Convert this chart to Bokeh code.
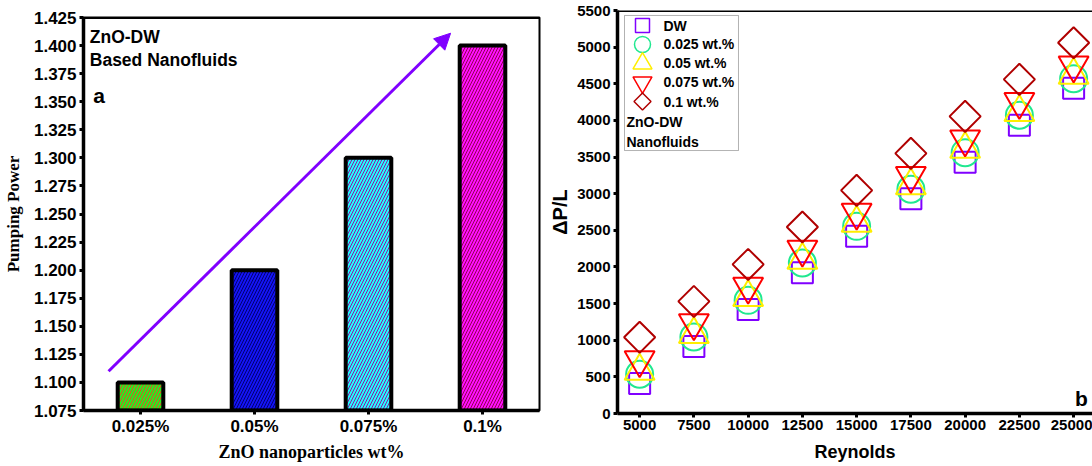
from bokeh.plotting import figure
from bokeh.models import (Range1d, FixedTicker, NumeralTickFormatter, Arrow, NormalHead,
                          Label, Span, BoxAnnotation, ColumnDataSource)
from bokeh.layouts import row, column
from bokeh.embed import file_html
from bokeh.resources import INLINE
import numpy as np

# ---------------- data ----------------
bar_labels = ["0.025%", "0.05%", "0.075%", "0.1%"]
pumping_power = [1.100, 1.200, 1.300, 1.400]
bar_colors = ["#22F022", "#1414F5", "#22FFFF", "#FF10FF"]
hatch_colors = ["#E05020", "#000070", "#9010A0", "#900050"]
left_yticks = [1.075, 1.100, 1.125, 1.150, 1.175, 1.200, 1.225, 1.250, 1.275,
               1.300, 1.325, 1.350, 1.375, 1.400, 1.425]

reynolds = [5000, 7500, 10000, 12500, 15000, 17500, 20000, 22500, 25000]
dp_dw = [410, 915, 1420, 1920, 2420, 2930, 3430, 3935, 4440]
dp_025 = [536, 1044, 1545, 2054, 2555, 3060, 3560, 4070, 4570]
dp_05 = [580, 1080, 1585, 2095, 2600, 3110, 3610, 4110, 4620]
dp_075 = [730, 1235, 1735, 2240, 2745, 3245, 3745, 4255, 4755]
dp_1 = [1040, 1530, 2035, 2545, 3045, 3550, 4055, 4560, 5060]
right_yticks = [0, 500, 1000, 1500, 2000, 2500, 3000, 3500, 4000, 4500, 5000, 5500]

series_labels = ["DW", "0.025 wt.%", "0.05 wt.%", "0.075 wt.%", "0.1 wt.%"]
series_data = [dp_dw, dp_025, dp_05, dp_075, dp_1]
series_colors = ["#8000FF", "#20E890", "#FFEE00", "#FF0000", "#B00000"]
series_markers = ["square", "circle", "triangle", "inverted_triangle", "square"]
series_angles = [0, 0, 0, 0, np.pi / 4]
series_sizes = [21, 27, 30, 30, 22]
legend_sizes = [14, 16, 19, 19, 12]

SANS = "Liberation Sans"
SERIF = "Liberation Serif"

# ---------------- left panel ----------------
p1 = figure(width=545, height=464, output_backend="svg", toolbar_location=None,
            x_range=Range1d(0, 4), y_range=Range1d(1.075, 1.425),
            min_border_left=82, min_border_right=6, min_border_top=17, min_border_bottom=53)
p1.grid.visible = False
p1.outline_line_color = "black"
p1.outline_line_width = 2

xs = [i + 0.5 for i in range(len(bar_labels))]
src = ColumnDataSource(dict(x=xs, top=pumping_power, fill=bar_colors, hatch=hatch_colors))
p1.vbar(x="x", top="top", bottom=1.075, width=0.4, source=src,
        fill_color="fill", line_color="black", line_width=4,
        hatch_pattern="/", hatch_color="hatch", hatch_scale=6, hatch_weight=1)

p1.add_layout(Arrow(end=NormalHead(size=16, fill_color="#8000FF", line_color="#8000FF"),
                    x_start=0.22, y_start=1.11, x_end=3.22, y_end=1.411,
                    line_color="#8000FF", line_width=3))

p1.add_layout(Span(location=1.425, dimension="width", line_color="black", line_width=3))

p1.add_layout(Label(x=0.055, y=1.4165, text="ZnO-DW", text_font=SANS, text_font_style="bold",
                    text_font_size="17.5px", text_baseline="top", text_color="black"))
p1.add_layout(Label(x=0.055, y=1.396, text="Based Nanofluids", text_font=SANS,
                    text_font_style="bold", text_font_size="17.5px", text_baseline="top",
                    text_color="black"))
p1.add_layout(Label(x=0.085, y=1.3553, text="a", text_font=SANS, text_font_style="bold",
                    text_font_size="21px", text_baseline="middle", text_color="black"))

p1.xaxis.ticker = FixedTicker(ticks=xs)
p1.xaxis.major_label_overrides = {x: l for x, l in zip(xs, bar_labels)}
p1.yaxis.ticker = FixedTicker(ticks=left_yticks)
p1.yaxis.formatter = NumeralTickFormatter(format="0.000")
for ax in (p1.xaxis, p1.yaxis):
    ax.axis_line_width = 3.5
    ax.major_tick_line_width = 3
    ax.major_tick_out = 4
    ax.major_tick_in = 0
    ax.minor_tick_line_color = None
    ax.major_label_text_font = SANS
    ax.major_label_text_font_style = "bold"
    ax.major_label_text_font_size = "17px"
    ax.major_label_text_color = "black"
    ax.axis_label_text_font = SERIF
    ax.axis_label_text_font_style = "bold"
    ax.axis_label_text_color = "black"
p1.xaxis.axis_label_text_font_size = "18px"
p1.yaxis.axis_label_text_font_size = "17px"
p1.xaxis.axis_label = "ZnO nanoparticles wt%"
p1.yaxis.axis_label = "Pumping Power"
p1.xaxis.major_label_standoff = 2
p1.xaxis.axis_label_standoff = 3
p1.yaxis.major_label_standoff = 3
p1.yaxis.axis_label_standoff = 8

# ---------------- right panel ----------------
p2 = figure(width=547, height=464, output_backend="svg", toolbar_location=None,
            x_range=Range1d(3980, 25870), y_range=Range1d(0, 5500),
            min_border_left=72, min_border_right=0, min_border_top=10, min_border_bottom=51)
p2.grid.visible = False
p2.outline_line_color = None
p2.add_layout(Span(location=5500, dimension="width", line_color="black", line_width=3))

for vals, col, mk, ang, sz in zip(series_data, series_colors, series_markers,
                                  series_angles, series_sizes):
    p2.scatter(reynolds, vals, marker=mk, angle=ang, size=sz, fill_color=None,
               line_color=col, line_width=2)

# legend box drawn as annotation
p2.add_layout(BoxAnnotation(left=4303, right=9556, bottom=3589, top=5432,
                            fill_color=None, line_color="black", line_width=1))
key_x = 5132
label_x = 6100
row_y = [5295, 5036, 4777, 4518, 4258]
for lab, col, mk, ang, sz, yy in zip(series_labels, series_colors, series_markers,
                                     series_angles, legend_sizes, row_y):
    p2.scatter([key_x], [yy], marker=mk, angle=ang, size=sz, fill_color=None,
               line_color=col, line_width=1.5)
    p2.add_layout(Label(x=label_x, y=yy, text=lab, text_font=SANS, text_font_style="bold",
                        text_font_size="14px", text_baseline="middle", text_color="black"))
p2.add_layout(Label(x=4395, y=3985, text="ZnO-DW", text_font=SANS, text_font_style="bold",
                    text_font_size="14px", text_baseline="middle", text_color="black"))
p2.add_layout(Label(x=4395, y=3712, text="Nanofluids", text_font=SANS, text_font_style="bold",
                    text_font_size="14px", text_baseline="middle", text_color="black"))
p2.add_layout(Label(x=25362, y=205, text="b", text_font=SANS, text_font_style="bold",
                    text_font_size="21px", text_baseline="middle", text_align="center",
                    text_color="black"))

p2.xaxis.ticker = FixedTicker(ticks=reynolds)
p2.yaxis.ticker = FixedTicker(ticks=right_yticks)
for ax in (p2.xaxis, p2.yaxis):
    ax.axis_line_width = 3.5
    ax.major_tick_line_width = 3
    ax.major_tick_out = 4
    ax.major_tick_in = 0
    ax.minor_tick_line_color = None
    ax.major_label_text_font = SANS
    ax.major_label_text_font_style = "bold"
    ax.major_label_text_font_size = "15px"
    ax.major_label_text_color = "black"
    ax.axis_label_text_font = SANS
    ax.axis_label_text_font_style = "bold"
    ax.axis_label_text_color = "black"
p2.xaxis.axis_label_text_font_size = "18px"
p2.yaxis.axis_label_text_font_size = "20px"
p2.xaxis.axis_label = "Reynolds"
p2.yaxis.axis_label = "ΔP/L"
p2.xaxis.major_label_standoff = 2
p2.xaxis.axis_label_standoff = 9
p2.yaxis.major_label_standoff = 3
p2.yaxis.axis_label_standoff = 3

layout = row(column(p1), column(p2))
open("out.html", "w").write(file_html(layout, INLINE))
